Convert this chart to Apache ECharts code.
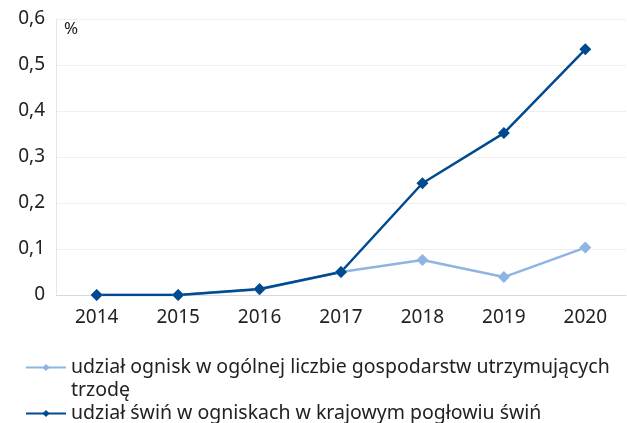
<!DOCTYPE html>
<html>
<head>
<meta charset="utf-8">
<script src="https://cdn.jsdelivr.net/npm/echarts@6/dist/echarts.min.js"></script>
<style>
  html, body { margin: 0; padding: 0; background: #fff; }
  #chart { width: 627px; height: 423px; }
</style>
</head>
<body>
<div id="chart"></div>
<script>
// lata
const years = ["2014", "2015", "2016", "2017", "2018", "2019", "2020"]
// udział ognisk w ogólnej liczbie gospodarstw
const ogniska = [0, 0, 0.012, 0.05, 0.076, 0.039, 0.103]
// udział świń w ogniskach w krajowym pogłowiu
const swinie = [0, 0, 0.013, 0.05, 0.243, 0.352, 0.534]
const names = [
  "udział ognisk w ogólnej liczbie gospodarstw utrzymujących trzodę",
  "udział świń w ogniskach w krajowym pogłowiu świń"
]
const yTicks = { min: 0, max: 0.6, interval: 0.1 }

const lightBlue = "#8db4e3"
const darkBlue = "#004a8f"
const font = "Noto Sans"

let chartEl = echarts.init(document.getElementById("chart"))
let option = {
  animation: false,
  grid: {
    left: 56,
    right: 1,
    top: 19,
    bottom: 128
  },
  graphic: [
    {
      type: "text",
      left: 64,
      top: 21,
      style: { text: "%", font: "17px " + font, fill: "#222" }
    }
  ],
  legend: {
    orient: "vertical",
    left: 25,
    top: 333,
    height: 120,
    padding: 0,
    itemGap: 0,
    itemWidth: 40,
    itemHeight: 9,
    // pusta linia na początku, żeby ikona stała przy pierwszej linii tekstu
    formatter: name => (name === names[0] ? "\n" + name : name),
    textStyle: {
      fontFamily: font,
      fontSize: 19.5,
      color: "#222",
      width: 580,
      overflow: "break",
      lineHeight: 23
    }
  },
  xAxis: {
    type: "category",
    data: years,
    axisLine: { lineStyle: { color: "#d9d9d9" } },
    axisTick: { show: false },
    axisLabel: { fontFamily: font, fontSize: 19, color: "#222", margin: 13 }
  },
  yAxis: {
    type: "value",
    min: yTicks.min,
    max: yTicks.max,
    interval: yTicks.interval,
    axisLine: { show: true, lineStyle: { color: "#e6e6e6" } },
    splitLine: { lineStyle: { color: "#efefef" } },
    axisLabel: {
      fontFamily: font,
      fontSize: 19,
      color: "#222",
      margin: 11,
      formatter: v => v.toFixed(1).replace(".", ",").replace(/^0,0$/, "0")
    }
  },
  series: [
    {
      name: names[0],
      type: "line",
      data: ogniska,
      symbol: "diamond",
      symbolSize: 12,
      lineStyle: { color: lightBlue, width: 2.5 },
      itemStyle: { color: lightBlue }
    },
    {
      name: names[1],
      type: "line",
      data: swinie,
      symbol: "diamond",
      symbolSize: 12,
      lineStyle: { color: darkBlue, width: 2.5 },
      itemStyle: { color: darkBlue }
    }
  ]
}
chartEl.setOption(option)
</script>
</body>
</html>
